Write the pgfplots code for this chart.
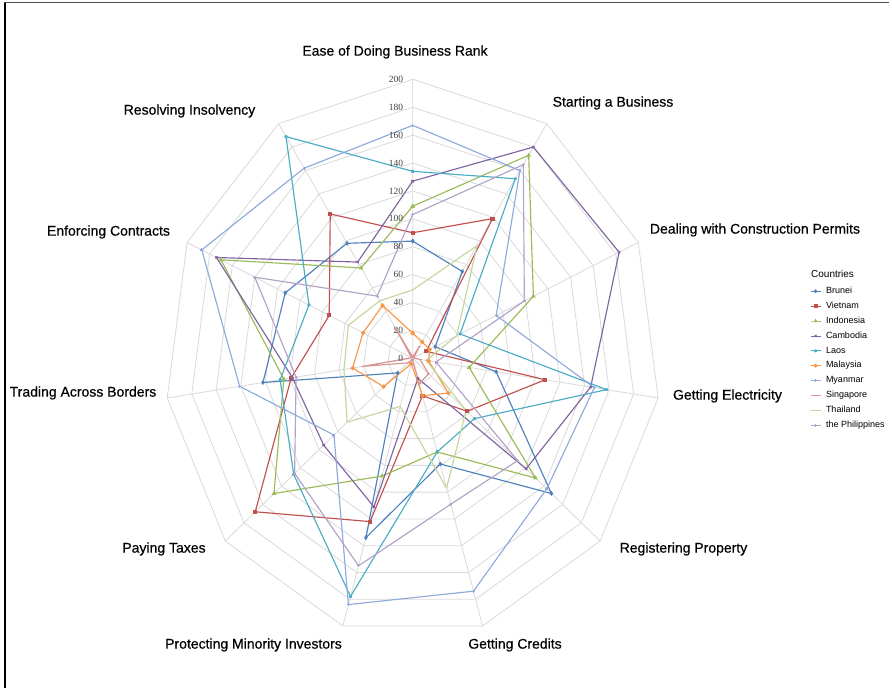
\documentclass[border=0pt]{standalone}
\usepackage{pgfplots}
\pgfplotsset{compat=1.18}
\usepackage{pgfplotstable}
\usepackage{fontspec}
\setmainfont{Liberation Sans}
\newfontfamily\labfont[FakeBold=0.5]{Liberation Sans}
\newfontfamily\tickfont{Liberation Serif}
\definecolor{cBrunei}{HTML}{4F81BD}
\definecolor{cVietnam}{HTML}{C0504D}
\definecolor{cIndonesia}{HTML}{9BBB59}
\definecolor{cCambodia}{HTML}{8064A2}
\definecolor{cLaos}{HTML}{4BACC6}
\definecolor{cMalaysia}{HTML}{F79646}
\definecolor{cMyanmar}{HTML}{8FAADC}
\definecolor{cSingapore}{HTML}{D99694}
\definecolor{cThailand}{HTML}{C3D69B}
\definecolor{cPhilippines}{HTML}{B3A2C7}
\definecolor{gridc}{HTML}{D9D9D9}

\pgfplotstableread{
k Brunei Vietnam Indonesia Cambodia Laos Malaysia Myanmar Singapore Thailand Philippines
0 84 90 109 127 134 18 167 1 49 103
1 74 119 173 180 153 14 160 10 96 165
2 20 12 107 183 42 15 74 1 39 99
3 68 108 46 145 158 13 148 6 11 19
4 148 58 131 121 66 38 143 17 57 112
5 79 28 70 15 70 28 174 19 97 109
6 134 122 88 111 178 4 184 1 36 155
7 16 168 148 95 127 31 84 5 70 126
8 122 99 105 98 108 49 141 41 56 95
9 113 74 170 174 92 44 187 1 57 140
10 98 123 77 82 189 45 162 25 49 53
11 84 90 109 127 134 18 167 1 49 103
}\data

\pgfplotstableread{
k r
0 1
1 1
2 1
3 1
4 1
5 1
6 1
7 1
8 1
9 1
10 1
11 1
}\ring

\pgfplotstableread{
k r
0 0
0 200
1 0
1 200
2 0
2 200
3 0
3 200
4 0
4 200
5 0
5 200
6 0
6 200
7 0
7 200
8 0
8 200
9 0
9 200
10 0
10 200
}\spokes

\newcommand\radar[3]{%
  \addplot[#2] table[x expr={\thisrow{#1}*sin(\thisrow{k}*360/11)},
                     y expr={\thisrow{#1}*cos(\thisrow{k}*360/11)}] {\data};
  \addlegendentry{#3}}

\begin{document}
\begin{tikzpicture}[x=1pt,y=1pt]
\path[use as bounding box] (-412.7,-329.7) rectangle (479.3,358.3);
\begin{axis}[at={(0,0)}, anchor=origin, x=1.24pt, y=1.395pt,
  xmin=-210, xmax=210, ymin=-210, ymax=210,
  axis lines=none, clip=false,
  every axis plot/.append style={line width=1.15pt, mark size=1.5pt},
  legend style={at={(axis cs:320.4,52.0)}, anchor=north west, draw=none, fill=none,
    inner sep=0pt, font=\fontsize{9}{10}\selectfont,
    nodes={inner sep=1pt, text height=6.5pt, text depth=2pt},
    row sep=4.4pt,
    /tikz/every odd column/.append style={column sep=4pt}},
  legend cell align=left,
  legend image code/.code={\draw[mark repeat=2,mark phase=2,line width=0.8pt,#1] plot coordinates {(0pt,0pt) (5pt,0pt) (10pt,0pt)};},
]
\pgfplotsinvokeforeach{20,40,...,200}{
  \addplot[gridc, line width=0.8pt, forget plot, mark=none] table[x expr={#1*sin(\thisrow{k}*360/11)}, y expr={#1*cos(\thisrow{k}*360/11)}] {\ring};
}
\addplot[gridc, line width=0.8pt, forget plot, mark=none] table[x expr={\thisrow{r}*sin(\thisrow{k}*360/11)}, y expr={\thisrow{r}*cos(\thisrow{k}*360/11)}] {\spokes};

\radar{Brunei}{cBrunei, mark=diamond*}{Brunei}
\radar{Vietnam}{cVietnam, mark=square*}{Vietnam}
\radar{Indonesia}{cIndonesia, mark=triangle*}{Indonesia}
\radar{Cambodia}{cCambodia, mark=x}{Cambodia}
\radar{Laos}{cLaos, mark=asterisk}{Laos}
\radar{Malaysia}{cMalaysia, mark=*}{Malaysia}
\radar{Myanmar}{cMyanmar, mark=+}{Myanmar}
\radar{Singapore}{cSingapore, mark=-}{Singapore}
\radar{Thailand}{cThailand, mark=none}{Thailand}
\radar{Philippines}{cPhilippines, mark=+}{the Philippines}

\pgfplotsinvokeforeach{0,20,...,200}{
  \node[anchor=east, inner sep=0pt, font=\tickfont\fontsize{9.5}{11}\selectfont, text=black!75] at (axis cs:-7.5,#1) {#1};
}
\end{axis}
\draw[line width=2pt] (-407.7,355.3) -- (-407.7,-330);
\draw[black!70, line width=1.2pt] (-408.7,355.5) -- (476,355.5);
\begin{scope}[every node/.style={font=\labfont\fontsize{14}{16}\selectfont, inner sep=0pt}]
\node at (-17.7,306.3) {Ease of Doing Business Rank};
\node at (200.3,255.3) {Starting a Business};
\node at (342.3,128.3) {Dealing with Construction Permits};
\node at (314.8,-37.7) {Getting Electricity};
\node at (270.8,-190.7) {Registering Property};
\node at (102.3,-286.7) {Getting Credits};
\node at (-159.2,-286.7) {Protecting Minority Investors};
\node at (-248.7,-190.7) {Paying Taxes};
\node at (-329.7,-34.7) {Trading Across Borders};
\node at (-304.2,126.3) {Enforcing Contracts};
\node at (-223.2,247.3) {Resolving Insolvency};
\end{scope}
\node[font=\fontsize{10}{12}\selectfont, anchor=west, inner sep=0pt] at (398.3,84.6) {Countries};
\end{tikzpicture}
\end{document}
